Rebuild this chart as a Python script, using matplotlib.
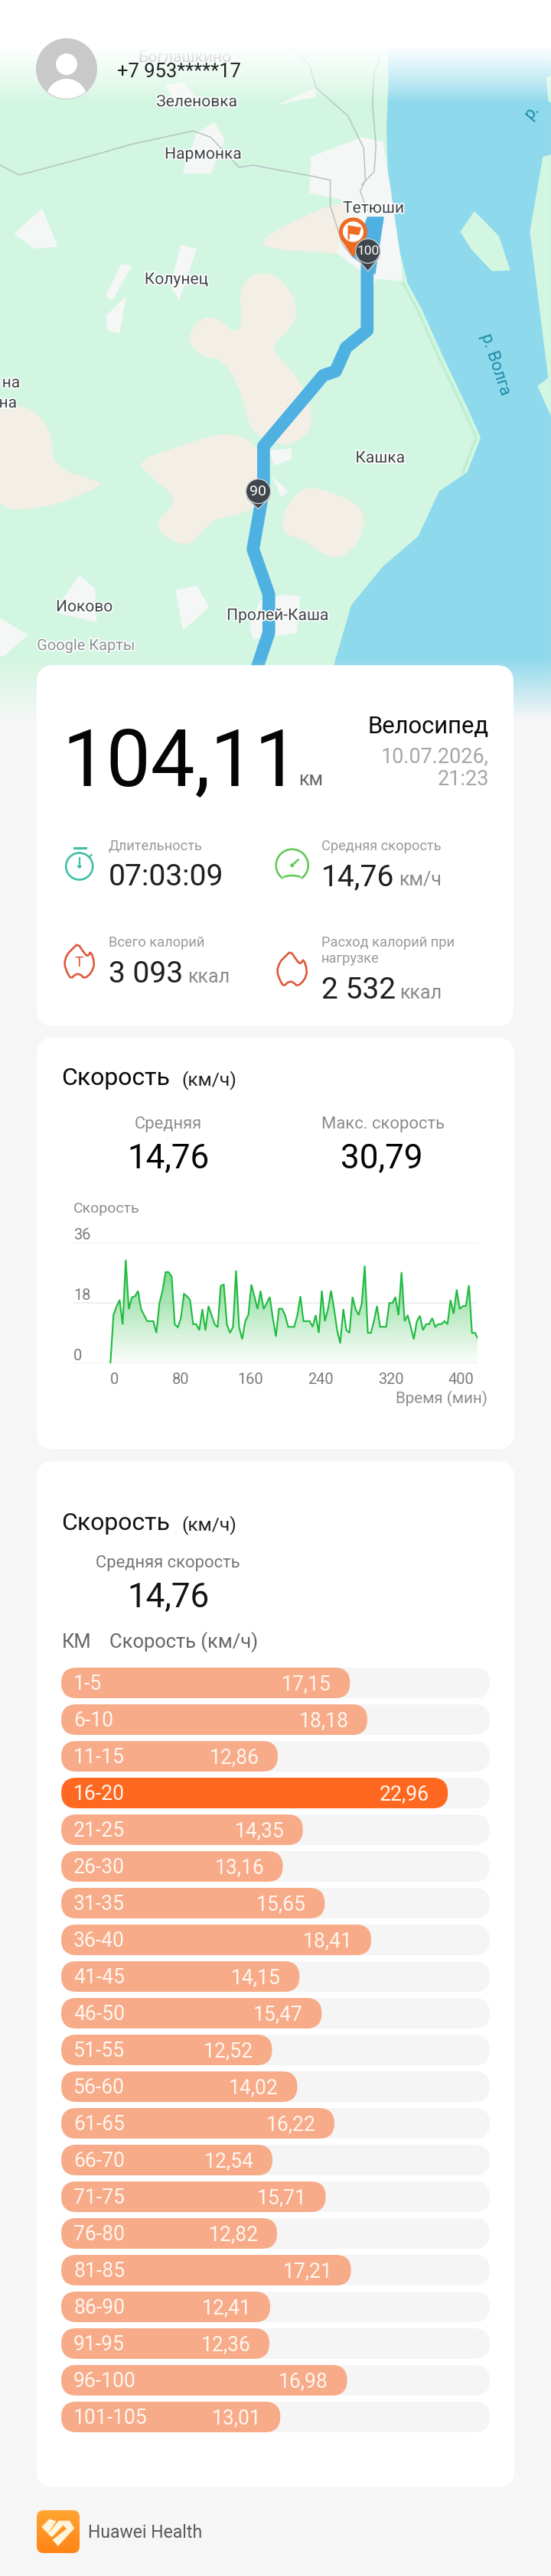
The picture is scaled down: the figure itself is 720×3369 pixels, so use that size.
import numpy as np
import matplotlib
matplotlib.use("Agg")
import matplotlib.pyplot as plt
import matplotlib.patheffects as pe
from matplotlib.patches import Circle, Polygon, FancyBboxPatch, Arc, Rectangle
from matplotlib.colors import LinearSegmentedColormap, to_rgb

plt.rcParams["font.family"] = ["Roboto", "DejaVu Sans"]

# speed over the ride, one reading every 3.5 min
speed_step_min = 3.5
speed_values = [
    0, 14.4, 16.9, 18.8, 11.5, 30.8, 16.1, 19.6, 19.9, 21.5, 16.1, 14.3, 12.5, 12.5, 12.5,
    9.0, 17.9, 21.5, 27.1, 27.1, 25.8, 11.5, 10.7, 13.4, 20.6, 19.9, 18.8, 11.6, 11.6, 9.8,
    16.1, 9.7, 17.0, 14.3, 11.6, 10.7, 23.0, 23.4, 11.6, 9.0, 10.7, 27.6, 10.7, 7.1, 12.5,
    14.3, 23.4, 19.9, 16.1, 21.5, 16.1, 17.9, 19.7, 13.5, 7.9, 16.2, 16.2, 14.3, 10.8, 10.8,
    10.8, 14.3, 19.9, 12.5, 12.5, 12.5, 10.8, 14.3, 9.0, 21.6, 12.5, 16.1, 21.6, 16.1, 9.7,
    5.9, 16.1, 9.8, 9.0, 19.7, 16.1, 14.3, 17.7, 29.0, 9.0, 9.0, 12.5, 17.0, 10.8, 10.8,
    10.8, 17.9, 17.9, 19.7, 14.3, 27.1, 12.5, 14.3, 10.8, 7.1, 12.5, 14.1, 9.8, 11.6, 11.6,
    13.4, 10.8, 11.6, 11.6, 12.5, 11.6, 18.8, 14.7, 21.9, 16.1, 17.0, 17.0, 23.2, 9.0, 9.0,
    7.1,
]
time_ticks = [0, 80, 160, 240, 320, 400]
speed_ticks = [0, 18, 36]

# average speed per 5 km
km_labels = [
    "1-5", "6-10", "11-15", "16-20", "21-25", "26-30", "31-35", "36-40", "41-45", "46-50", "51-55",
    "56-60", "61-65", "66-70", "71-75", "76-80", "81-85", "86-90", "91-95", "96-100", "101-105",
]
km_speeds = [
    17.15, 18.18, 12.86, 22.96, 14.35, 13.16, 15.65, 18.41, 14.15, 15.47, 12.52,
    14.02, 16.22, 12.54, 15.71, 12.82, 17.21, 12.41, 12.36, 16.98, 13.01,
]

W, H = 720, 3369
PT = 0.72  # px to pt at dpi 100

fig = plt.figure(figsize=(W / 100, H / 100), dpi=100, facecolor="#f6f6f6")
ui = fig.add_axes([0, 0, 1, 1])
ui.set_xlim(0, W)
ui.set_ylim(H, 0)
ui.axis("off")


def px_axes(x0, y0, x1, y1):
    return fig.add_axes([x0 / W, 1 - y1 / H, (x1 - x0) / W, (y1 - y0) / H])


def m(pts):
    return [(x / 2.178, y / 1.782) for x, y in pts]


def smooth(pts, rounds=2):
    # corner cutting, the map blobs have no hard corners
    p = np.array(pts, dtype=float)
    for _ in range(rounds):
        q = np.roll(p, -1, axis=0)
        p = np.column_stack([0.75 * p + 0.25 * q, 0.25 * p + 0.75 * q]).reshape(-1, 2)
    return p


def poly(pts, color, z=1):
    ui.add_patch(Polygon(m(pts), closed=True, fc=color, ec="none", zorder=z))


def txt(x, y, s, px, color="#000000", ha="left", weight="normal", z=20, **kw):
    return ui.text(x, y, s, fontsize=px * PT, color=color, ha=ha, va="baseline", weight=weight, zorder=z, **kw)


def card(x0, y0, x1, y1):
    ui.add_patch(FancyBboxPatch((x0, y0), x1 - x0, y1 - y0, boxstyle="round,pad=0,rounding_size=22",
                                fc="white", ec="none", zorder=10))


# ---- map ----
LAND = "#d2f6e1"
WATER = "#8fd9ec"
BEIGE = "#f3efe6"
TOWN = "#f5f6f6"
ui.add_patch(Rectangle((0, 0), W, 940, fc=LAND, ec="none", zorder=0))

poly([(1105, 0), (1105, 200), (1100, 300), (1105, 430), (1130, 560), (1160, 660), (1200, 720), (1260, 830),
      (1330, 950), (1368, 1020), (1330, 1100), (1250, 1145), (1190, 1250), (1090, 1320), (1000, 1410),
      (950, 1550), (925, 1675), (1568, 1675), (1568, 0)], WATER)
poly([(1568, 360), (1545, 365), (1508, 540), (1560, 880), (1530, 900), (1568, 970)], LAND, 2)
poly([(1310, 540), (1350, 492), (1420, 550), (1452, 630), (1400, 632), (1340, 580)], LAND, 2)
poly([(1555, 182), (1568, 175), (1568, 240), (1560, 235)], LAND, 2)
bank = np.array(m([(1160, 660), (1200, 720), (1260, 830), (1330, 950), (1368, 1020), (1330, 1100)])) - [6, 0]
ui.plot(bank[:, 0], bank[:, 1], color="#bfeed2", lw=2.5, zorder=2)

for shape in [
    [(745, 560), (800, 530), (930, 480), (1000, 470), (1005, 600), (950, 590), (760, 580)],
    [(680, 680), (720, 635), (790, 640), (845, 700), (840, 760), (760, 810), (855, 880), (900, 990), (830, 1040),
     (770, 1030), (710, 1000), (690, 920), (640, 840), (570, 830), (530, 790), (570, 740), (620, 740), (670, 780), (690, 750)],
    [(-30, 950), (90, 945), (150, 1010), (150, 1090), (295, 1125), (270, 1140), (130, 1185), (-30, 1190)],
    [(390, 1075), (510, 1040), (640, 1005), (730, 1030), (780, 1150), (690, 1200), (600, 1210), (540, 1280),
     (450, 1240), (450, 1210), (510, 1165), (420, 1105)],
    [(800, 1200), (860, 1130), (960, 1150), (1045, 1190), (1020, 1270), (950, 1310), (850, 1250), (810, 1250)],
]:
    poly(smooth(shape), BEIGE, 3)

for shape in [
    [(885, 365), (1030, 320), (1090, 330), (1110, 430), (1140, 600), (1145, 655), (1070, 650), (1060, 680),
     (1040, 640), (960, 590), (1000, 470), (880, 450)],
    [(40, 545), (120, 485), (165, 575), (100, 580)],
    [(485, 665), (515, 570), (560, 580), (510, 700)],
    [(300, 690), (345, 615), (375, 620), (320, 700)],
    [(302, 735), (360, 690), (340, 778), (305, 770)],
    [(520, 400), (560, 310), (610, 285), (640, 325), (600, 405), (530, 405)],
    [(470, 200), (520, 190), (575, 240), (500, 240)],
    [(775, 250), (895, 205), (900, 225), (790, 245)],
    [(500, 1375), (560, 1365), (595, 1415), (520, 1470)],
    [(160, 1420), (225, 1340), (270, 1370), (275, 1450), (170, 1430)],
    [(710, 1460), (740, 1400), (810, 1385), (855, 1390), (845, 1475), (720, 1490)],
    [(0, 1440), (80, 1480), (10, 1530), (0, 1530)],
    [(765, 1050), (830, 1045), (830, 1070), (780, 1085)],
    [(775, 1110), (820, 1145), (800, 1160)],
]:
    poly(shape, TOWN, 3)

for road in [
    [(0, 385), (55, 408), (230, 370), (380, 335), (550, 305), (600, 320), (680, 390), (720, 385), (885, 410),
     (940, 420), (940, 480), (975, 570), (1005, 600)],
    [(690, 0), (880, 150), (900, 205), (990, 270), (1035, 345), (1040, 420), (1025, 445), (1045, 490)],
    [(1130, 20), (1065, 170), (1060, 240), (1070, 340), (1065, 400), (1030, 430)],
]:
    xy = np.array(m(road))
    ui.plot(xy[:, 0], xy[:, 1], color="#b7c2c6", lw=1.1, zorder=4)

route = np.array(m([(1045, 620), (1045, 770), (985, 810), (955, 865), (920, 875), (750, 1040), (750, 1140),
                    (720, 1280), (765, 1385), (765, 1475), (730, 1560)]))
ui.plot(route[:, 0], route[:, 1], color="#4fb1e2", lw=12, solid_joinstyle="round", zorder=5)
poly([(1045, 505), (1093, 505), (1068, 640), (1005, 600)], "#4fb1e2", 5)

halo = [pe.withStroke(linewidth=2.5, foreground="#ffffff")]
for x, y, name in [(560, 238, "Зеленовка"), (578, 360, "Нармонка"), (1063, 486, "Тетюши"), (502, 652, "Колунец"),
                   (1082, 1068, "Кашка"), (240, 1415, "Иоково"), (790, 1435, "Пролей-Каша")]:
    px, py = m([(x, y)])[0]
    ui.text(px, py, name, fontsize=21 * PT, color="#3f4548", ha="center", va="center", zorder=7, path_effects=halo)
px, py = m([(525, 135)])[0]
ui.text(px, py, "Боглашкино", fontsize=21 * PT, color="#3f4548", ha="center", va="center", zorder=6)
for y, end, s in [(893, 57, "на"), (940, 48, "на")]:
    px, py = m([(end, y)])[0]
    ui.text(px, py, s, fontsize=21 * PT, color="#3f4548", ha="right", va="center", zorder=7, path_effects=halo)
px, py = m([(105, 1505)])[0]
ui.text(px, py, "Google Карты", fontsize=20 * PT, color="#8b9194", ha="left", va="center", zorder=7, path_effects=halo)
px, py = m([(1408, 850)])[0]
ui.text(px, py, "р. Волга", fontsize=22 * PT, color="#1b8ca6", ha="center", va="center", rotation=-72, zorder=7)
px, py = m([(1520, 285)])[0]
ui.text(px, py, "р.", fontsize=22 * PT, color="#1b8ca6", ha="left", va="bottom", rotation=50,
        rotation_mode="anchor", zorder=7)

# start flag
fx, fy = m([(1005, 540)])[0]
poly([(968, 555), (1030, 560), (1005, 600)], "#ef6b22", 6)
ui.add_patch(Circle((fx, fy), 16, fc="white", ec="#ef6b22", lw=3.6, zorder=6))
poly([(990, 525), (1028, 530), (1022, 548), (995, 545), (995, 558), (990, 558)], "#ef6b22", 6)

# distance pins
for x, y, s, tip, size in [(1047, 585, "100", 632, 12.5), (735, 1145, "90", 1186, 14)]:
    px, py = m([(x, y)])[0]
    _, ty = m([(x, tip)])[0]
    ui.add_patch(Polygon([(px - 15, py + 9), (px, ty), (px + 15, py + 9)], fc="#3e464b", ec="#c8cdd0", lw=1, zorder=6))
    ui.add_patch(Circle((px, py), 16, fc="#3e464b", ec="#c8cdd0", lw=1, zorder=6))
    ui.add_patch(Circle((px, py), 15, fc="#3e464b", ec="none", zorder=6))
    ui.text(px, py, s, fontsize=size, color="white", ha="center", va="center", zorder=7)

# white fade on top of the map, grey fade at its foot
rows = np.arange(132)
top_fade = np.ones((132, 2, 4))
top_fade[:, :, 3] = (np.clip((132 - rows) / 72, 0, 1) ** 0.8)[:, None]
ui.imshow(top_fade, extent=(0, W, 132, 0), aspect="auto", zorder=8)
foot_fade = np.ones((100, 2, 4))
foot_fade[:, :, :3] = to_rgb("#f6f6f6")
foot_fade[:, :, 3] = np.linspace(0, 1, 100)[:, None]
ui.imshow(foot_fade, extent=(0, W, 941, 860), aspect="auto", zorder=8)
ui.set_xlim(0, W)
ui.set_ylim(H, 0)

ui.add_patch(Circle((87, 90), 40, fc="#c9c9c9", ec="none", zorder=9))
ui.add_patch(Circle((87, 84), 14, fc="white", ec="none", zorder=9))
clip = Circle((87, 90), 39, transform=ui.transData)
body = ui.add_patch(Circle((87, 130), 27, fc="white", ec="none", zorder=9))
body.set_clip_path(clip)
txt(153, 101, "+7 953*****17", 25.5, color="#222222")

# ---- summary card ----
card(48, 870, 671, 1342)
txt(81, 1027, "104,11", 103, color="#050505")
txt(390, 1027, "км", 25, color="#666666")
txt(639, 959, "Велосипед", 31, ha="right", color="#0a0a0a")
txt(639, 997, "10.07.2026,", 27, ha="right", color="#a6a6a6")
txt(639, 1027, "21:23", 27, ha="right", color="#a6a6a6")

GREY = "#9a9a9a"
DARK = "#1f1f1f"
txt(142, 1112, "Длительность", 18.3, color=GREY)
txt(142, 1158, "07:03:09", 39, color=DARK)
txt(420, 1112, "Средняя скорость", 18.3, color=GREY)
txt(420, 1158, "14,76", 39, color=DARK)
txt(521, 1158, "км/ч", 25, color="#8a8a8a")
txt(142, 1238, "Всего калорий", 18.3, color=GREY)
txt(142, 1285, "3 093", 39, color=DARK)
txt(245, 1285, "ккал", 25, color="#8a8a8a")
txt(420, 1238, "Расход калорий при", 18.3, color=GREY)
txt(420, 1259, "нагрузке", 18.3, color=GREY)
txt(420, 1306, "2 532", 39, color=DARK)
txt(522, 1306, "ккал", 25, color="#8a8a8a")

TEAL = "#3fbfa6"
ui.add_patch(Circle((103.7, 1133), 17.5, fc="none", ec=TEAL, lw=1.9, zorder=20))
ui.plot([96.7, 111.7], [1109, 1109], color=TEAL, lw=2.2, zorder=20)
ui.plot([103.7, 103.7], [1122, 1129], color=TEAL, lw=1.6, zorder=20)
ui.plot([117, 119.5], [1120.5, 1118], color=TEAL, lw=1.6, zorder=20)
ui.add_patch(Circle((103.7, 1133), 2.6, fc=TEAL, ec="none", zorder=20))

LIME = "#63c95a"
ui.add_patch(Arc((381.7, 1131.7), 42, 42, theta1=125, theta2=415, fc="none", ec=LIME, lw=1.9, zorder=20))
ui.add_patch(Arc((381.7, 1163), 48, 36, theta1=235, theta2=305, fc="none", ec=LIME, lw=1.9, zorder=20))
ui.plot([381.7, 389.5], [1131.7, 1124.5], color=LIME, lw=1.9, zorder=20)
ui.add_patch(Circle((381.7, 1131.7), 2.5, fc=LIME, ec="none", zorder=20))

FLAME = "#e0583a"
flame = [(-2, -24), (6, -12), (11, -7), (15, -14), (20, 2), (16, 14), (7, 22), (1, 16), (-5, 16), (-11, 22),
         (-16, 14), (-20, 2), (-16, -10), (-9, -17)]
for cx, cy in [(103.7, 1258), (381.7, 1268)]:
    ui.add_patch(Polygon(smooth([(cx + x, cy + y) for x, y in flame], 1), closed=True, fc="none", ec=FLAME, lw=1.9,
                         joinstyle="round", zorder=20))
ui.text(103.7, 1259, "T", fontsize=14, color=FLAME, ha="center", va="center", zorder=20)

# ---- speed line card ----
card(48, 1357, 672, 1895)
txt(80, 1419, "Скорость", 32, color="#0a0a0a")
txt(237, 1419, "(км/ч)", 24.5, color="#222222")
txt(219.6, 1476, "Средняя", 22, ha="center", color="#8c8c8c")
txt(500, 1476, "Макс. скорость", 22, ha="center", color="#8c8c8c")
txt(219.6, 1528, "14,76", 44, ha="center", color="#050505")
txt(499, 1528, "30,79", 44, ha="center", color="#050505")
txt(96, 1586, "Скорость", 19.5, color="#8c8c8c")
txt(637, 1835, "Время (мин)", 20.5, ha="right", color="#8c8c8c")

ax = px_axes(96, 1624.7, 624, 1782.7)
ax.patch.set_alpha(0)
minutes = np.arange(len(speed_values)) * speed_step_min
ax.set_xlim(-42.2, 419.3)
ax.set_ylim(0, 36)
ax.set_yticks(speed_ticks)
ax.set_yticklabels([str(v) for v in speed_ticks], ha="left", va="bottom", fontsize=20 * PT, color="#7b7b7b")
ax.set_xticks(time_ticks)
ax.set_xticklabels([str(v) for v in time_ticks], fontsize=20 * PT, color="#7b7b7b")
ax.tick_params(axis="both", length=0)
ax.tick_params(axis="y", pad=0)
ax.tick_params(axis="x", pad=9)
ax.grid(axis="y", color="#f0f0f0", lw=1.6)
ax.set_axisbelow(True)
for s in ax.spines.values():
    s.set_visible(False)
ax.get_xticklabels()[0].set_ha("left")

green_fade = np.ones((200, 2, 4))
green_fade[:, :, :3] = to_rgb("#3fc45a")
green_fade[:, :, 3] = np.linspace(0.72, 0.02, 200)[:, None]
fill_img = ax.imshow(green_fade, extent=(minutes[0], minutes[-1], 0, max(speed_values)), aspect="auto", zorder=2)
area = ax.fill_between(minutes, speed_values, 0, color="none", zorder=1)
fill_img.set_clip_path(area.get_paths()[0], transform=ax.transData)
ax.plot(minutes, speed_values, color="#1dbb3e", lw=1.5, solid_joinstyle="miter", zorder=3)
ax.set_xlim(-42.2, 419.3)
ax.set_ylim(0, 36)

# ---- split bars card ----
card(48, 1911, 672, 3253)
txt(80, 2001, "Скорость", 32, color="#141414")
txt(237, 2001, "(км/ч)", 24.5, color="#222222")
txt(219.6, 2050, "Средняя скорость", 22, ha="center", color="#777777")
txt(219.6, 2102, "14,76", 44, ha="center", color="#141414")
txt(81, 2155, "КМ", 25.5, color="#666666")
txt(143, 2155, "Скорость (км/ч)", 25.5, color="#666666")

bars = px_axes(80, 2181, 640, 3181)
bars.set_zorder(5)
bars.axis("off")
track_max = 25.45
bars.set_xlim(0, track_max)
bars.set_ylim(1000, 0)
unit_px = 560 / track_max
top_value = max(km_speeds)
for i, (label, value) in enumerate(zip(km_labels, km_speeds)):
    y = i * 48
    bars.add_patch(FancyBboxPatch((0, y), track_max, 40, boxstyle=f"round,pad=0,rounding_size={20 / unit_px}",
                                  mutation_aspect=unit_px, fc="#f5f5f5", ec="none"))
    color = "#ff6820" if value == top_value else "#f7ab88"
    bars.add_patch(FancyBboxPatch((0, y), value, 40, boxstyle=f"round,pad=0,rounding_size={20 / unit_px}",
                                  mutation_aspect=unit_px, fc=color, ec="none"))
    bars.text(16 / unit_px, y + 29.5, label, fontsize=26.5 * PT, color="#fff6f0", ha="left", va="baseline")
    bars.text(value - 24.5 / unit_px, y + 29.5, f"{value:.2f}".replace(".", ","), fontsize=26.5 * PT,
              color="#fff6f0", ha="right", va="baseline")

# ---- footer ----
logo = FancyBboxPatch((48, 3283), 56, 56, boxstyle="round,pad=0,rounding_size=9", fc="none", ec="none", zorder=20)
ui.add_patch(logo)
logo_cmap = LinearSegmentedColormap.from_list("logo", ["#ffa632", "#ff8416"])
logo_img = ui.imshow(np.linspace(0, 1, 100)[:, None], extent=(48, 104, 3339, 3283), cmap=logo_cmap, aspect="auto", zorder=20)
logo_img.set_clip_path(logo)
ui.set_xlim(0, W)
ui.set_ylim(H, 0)


def logo_xy(pts):
    return [(x / 2.45 + 40, y / 3 + 2880) for x, y in pts]


ui.add_patch(Polygon(logo_xy([(35, 1275), (60, 1243), (82, 1252), (56, 1300)]), fc="#fff4dc", ec="none", zorder=21))
ui.add_patch(Polygon(logo_xy([(90, 1250), (125, 1250), (140, 1280), (88, 1350), (70, 1325), (115, 1282), (105, 1268),
                              (68, 1315), (55, 1302)]), fc="#fff4dc", ec="none", zorder=21))
txt(114.7, 3319, "Huawei Health", 23, color="#5a5a5a")

fig.savefig("out.png", dpi=100, facecolor=fig.get_facecolor())
